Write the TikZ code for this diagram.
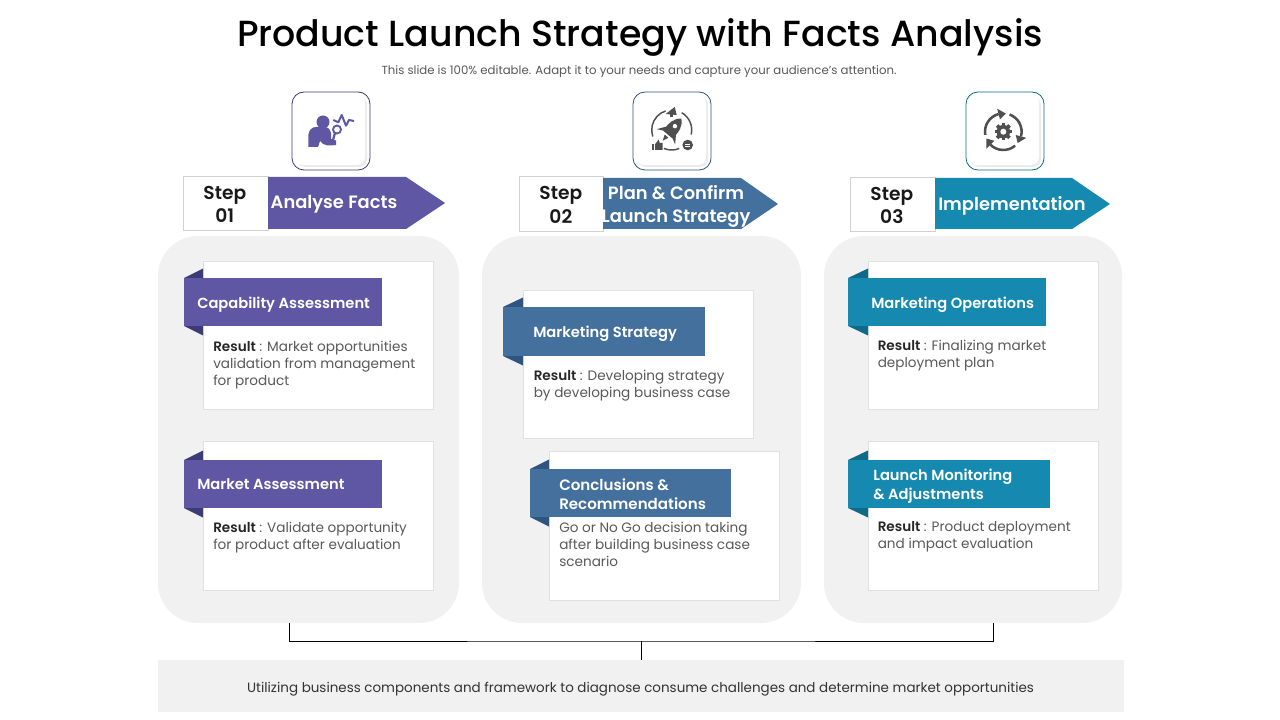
\documentclass[tikz,border=0pt]{standalone}
\usepackage{fontspec}
\setmainfont{Poppins}
\newfontfamily\popsemi{Poppins SemiBold}
\newfontfamily\popmed{Poppins Medium}
\usetikzlibrary{calc}
\definecolor{cpur}{HTML}{5F57A3}\definecolor{cpurd}{HTML}{3D3A78}
\definecolor{cblu}{HTML}{44709E}\definecolor{cblud}{HTML}{2F5480}
\definecolor{ctea}{HTML}{1689B0}\definecolor{cted}{HTML}{0F6A8A}
\definecolor{panelgray}{HTML}{F1F1F1}\definecolor{bodytxt}{HTML}{595959}
\definecolor{icongray}{HTML}{4F4F4F}
\newcommand{\res}{\textcolor{black!85}{\popsemi Result}}
\tikzset{
 x=0.75pt,y=-0.75pt,
 panel/.style={fill=panelgray,draw=none},
 cardbox/.style={fill=white,draw=black!12,line width=0.5pt},
 stepbox/.style={fill=white,draw=black!18,line width=0.5pt},
 steptxt/.style={font=\fontsize{14}{17.5}\popsemi,align=center,text=black!90,inner sep=0},
 headtxt/.style={font=\fontsize{13.4}{17.2}\popsemi,align=center,text=white,inner sep=0},
 ribtxt/.style={font=\fontsize{11}{14.2}\popsemi,align=left,text=white,inner sep=0,anchor=west},
 bodyt/.style={font=\fontsize{10.2}{12.75}\selectfont,align=left,text=bodytxt,inner sep=0,anchor=north west},
 link/.style={draw=black,line width=0.6pt},
 iconframe/.style={x=0.75pt,y=0.75pt},
}
\newcommand{\iconbox}[5]{% x0 y0 x1 y1 color
 \fill[white,rounded corners=9pt] (#1,#2) rectangle (#3,#4);
 \fill[black!8,rounded corners=6pt] ($(#1,#2)+(5,5)$) rectangle ($(#3,#4)+(-3,-3)$);
 \fill[white,rounded corners=6pt] ($(#1,#2)+(3,3)$) rectangle ($(#3,#4)+(-5,-5)$);
 \draw[#5,line width=0.6pt,rounded corners=9pt] (#1,#2) rectangle (#3,#4);}
\newcommand{\ribbon}[7]{% x0 foldx y0 x1 y1 main dark
 \fill[#7] (#1,#3) -- (#2,{#3-9.5}) -- (#2,#3) -- cycle;
 \fill[#7] (#1,#5) -- (#2,{#5+9.5}) -- (#2,#5) -- cycle;
 \fill[#6] (#1,#3) rectangle (#4,#5);}
\begin{document}
\begin{tikzpicture}
\useasboundingbox (0,0) rectangle (1280,720);
\fill[white] (0,0) rectangle (1280,720);
% title
\node[inner sep=0,font=\fontsize{27.25}{34}\popmed,text=black] (title) at (640,37) {Product Launch Strategy with Facts Analysis};
\node[inner sep=0,font=\fontsize{8.8}{10}\selectfont,text=bodytxt] (sub) at (639,72) {This slide is 100\% editable. Adapt it to your needs and capture your audience's attention.};
% panels
\fill[panel,rounded corners=30pt] (158,236) rectangle (459,623);
\fill[panel,rounded corners=30pt] (482,236) rectangle (801,623);
\fill[panel,rounded corners=30pt] (824,236) rectangle (1122,623);
% bottom
\node[panel,minimum width=724.5pt,minimum height=39pt,inner sep=0,anchor=north west] (bar) at (158,660) {};
\node[inner sep=0,font=\fontsize{10.1}{12}\selectfont,text=black!80] (bartxt) at (640.5,689) {Utilizing business components and framework to diagnose consume challenges and determine market opportunities};
\coordinate (la) at (289,623);\coordinate (lb) at (993,623);\coordinate (lm) at (641,641);
\draw[link] (la) |- (lm) -| (lb);
\draw[link] (lm) -- (lm |- bar.north);
% icon boxes
\iconbox{292}{92}{370}{170}{cpurd}
\iconbox{633}{92}{711}{170}{cblud}
\iconbox{966}{92}{1044}{170}{cted}
% icon 1: person
\fill[cpur] (323,122) circle (6.5);
\fill[cpur] (308.3,147) -- (308.3,135) .. controls (309,130) and (312,127) .. (316,127) -- (324,127) .. controls (328,127) and (330,129) .. (331,133) -- (331,139) -- (336,140.5) -- (336,145) .. controls (330,146) and (323,146) .. (320,141) -- (318,147) -- cycle;
\draw[cpur,line width=1.4pt] (337,129.5) circle (4);
\draw[cpur,line width=1.7pt] (335,133) -- (333,140);
\draw[cpur,line width=1.5pt,line join=round] (333.3,120) -- (338.3,122.3) -- (341.7,115) -- (346,125.7) -- (349,120) -- (354,121);
% icon 2: rocket
\begin{scope}[shift={(671.7,130)},iconframe]
\draw[icongray,line width=1.1pt] (108:20) arc (108:199:20);
\draw[icongray,line width=1.1pt] (60:20) arc (60:-13:20);
\draw[icongray,line width=1.1pt] (247:20) arc (247:292:20);
\begin{scope}[rotate=-40]
\fill[icongray] (0,15) .. controls (6,10) and (7,4) .. (6,-6) -- (-6,-6) .. controls (-7,4) and (-6,10) .. (0,15) -- cycle;
\fill[icongray] (-5,1) -- (-12,-9) -- (-4.5,-5) -- cycle;
\fill[icongray] (5,1) -- (12,-9) -- (4.5,-5) -- cycle;
\fill[icongray] (-2.5,-8) -- (2.5,-8) -- (0,-14) -- cycle;
\fill[white] (0,5) circle (2.2);
\end{scope}
\fill[icongray] (-6,16) -- (3,23) -- (5,15) -- cycle;
\fill[icongray] (-2,17) -- (-2,13) -- (1,13) -- (1,17) -- cycle;
\fill[icongray] (-20,-20) rectangle (-17.5,-14);
\fill[icongray] (-16.5,-20) -- (-16.5,-14) -- (-13,-9.5) -- (-12,-13) -- (-9,-13) -- (-9,-20) -- cycle;
\fill[icongray] (16,-15) circle (5.3);
\draw[white,line width=0.6pt] (13.5,-14) -- (18.5,-14) (13.5,-16) -- (18.5,-16);
\end{scope}
% icon 3: gear
\begin{scope}[shift={(1003.3,131.7)},iconframe]
\foreach \a in {0,45,...,315}{\fill[icongray,rotate=\a] (-1.8,5) rectangle (1.8,8.8);}
\fill[icongray] (0,0) circle (6.8);
\fill[white] (0,0) circle (3);
\foreach \a in {0,-120,-240}{
 \begin{scope}[rotate=\a]
 \draw[icongray,line width=1.9pt] (190:18.3) arc (190:105:18.3);
 \fill[icongray] (105:12.8) -- (105:23.8) -- (82:18.3) -- cycle;
 \end{scope}}
\end{scope}
% step boxes and arrows
\node[stepbox,minimum width=63.75pt,minimum height=40.5pt,anchor=north west,inner sep=0] (s1) at (183,176) {};
\node[steptxt] at ($(s1.center)+(-1,1)$) {Step\\01};
\fill[cpur] (268,177) -- (406,177) -- (445,203) -- (406,229) -- (268,229) -- cycle;
\node[headtxt] (h1) at (334,204.5) {Analyse Facts};
\node[stepbox,minimum width=63pt,minimum height=41.25pt,anchor=north west,inner sep=0] (s2) at (519,176) {};
\node[steptxt] at ($(s2.center)+(-0.5,1)$) {Step\\02};
\fill[cblu] (603,178) -- (741,178) -- (778,204) -- (741,229) -- (603,229) -- cycle;
\node[headtxt] (h2) at (676,206.5) {Plan \& Confirm\\Launch Strategy};
\node[stepbox,minimum width=63.75pt,minimum height=40.5pt,anchor=north west,inner sep=0] (s3) at (850,177) {};
\node[steptxt] at ($(s3.center)+(-1,1)$) {Step\\03};
\fill[ctea] (935,178) -- (1072,178) -- (1110,204) -- (1072,229) -- (935,229) -- cycle;
\node[headtxt] (h3) at (1012,206) {Implementation};
% cards
\draw[cardbox] (203.5,261) rectangle (433,409);
\draw[cardbox] (203.5,441) rectangle (433,590);
\draw[cardbox] (523.5,290) rectangle (753,438);
\draw[cardbox] (549.5,451) rectangle (779,600);
\draw[cardbox] (868.5,261) rectangle (1098,409);
\draw[cardbox] (868.5,441) rectangle (1098,590);
% ribbons
\ribbon{184}{203}{278}{382}{326}{cpur}{cpurd}
\ribbon{184}{203}{460}{382}{508}{cpur}{cpurd}
\ribbon{503}{523}{307}{705}{356}{cblu}{cblud}
\ribbon{530}{549}{469}{731}{517}{cblu}{cblud}
\ribbon{848}{868}{278}{1046}{326}{ctea}{cted}
\ribbon{848}{868}{460}{1050}{508}{ctea}{cted}
\node[ribtxt] (r1) at (197,305) {Capability Assessment};
\node[ribtxt] (r2) at (197,484.5) {Market Assessment};
\node[ribtxt] (r3) at (533,334) {Marketing Strategy};
\node[ribtxt,font=\fontsize{11.3}{14.2}\popsemi] (r4) at (559,494) {Conclusions \&\\Recommendations};
\node[ribtxt] (r5) at (871,305) {Marketing Operations};
\node[ribtxt] (r6) at (873,486.5) {Launch Monitoring\\\& Adjustments};
\node[bodyt] (b1) at (213,340.5) {\res{} : Market opportunities\\validation from management\\for product};
\node[bodyt] (b2) at (213,521.5) {\res{} : Validate opportunity\\for product after evaluation};
\node[bodyt] (b3) at (533.5,369.5) {\res{} : Developing strategy\\by developing business case};
\node[bodyt] (b4) at (559,521.5) {Go or No Go decision taking\\after building business case\\scenario};
\node[bodyt] (b5) at (877.5,340) {\res{} : Finalizing market\\deployment plan};
\node[bodyt] (b6) at (877.5,521.5) {\res{} : Product deployment\\and impact evaluation};
\end{tikzpicture}
\end{document}
